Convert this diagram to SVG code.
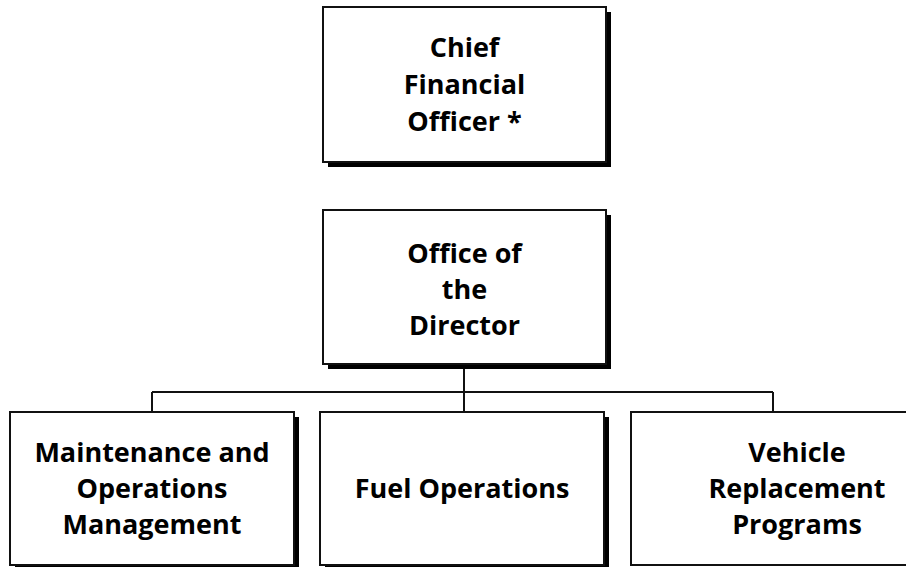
<svg xmlns="http://www.w3.org/2000/svg" width="906" height="567" viewBox="0 0 906 567">
<style>
.box{fill:#fff;stroke:#111;stroke-width:2}
.sh{fill:#000}
.t{font-family:"Open Sans","Liberation Sans",sans-serif;font-weight:bold;font-size:27px;fill:#000;text-anchor:middle}
.c{fill:none;stroke:#111;stroke-width:2}
</style>
<rect width="906" height="567" fill="#fff"/>
<g id="connectors">
<path class="c" d="M464 364V392M152 392H773M152 392V412M464 392V412M773 392V412"/>
</g>
<g id="cfo">
<rect class="sh" x="328" y="12" width="283" height="155"/>
<rect class="box" x="323" y="7" width="283" height="155"/>
<text class="t" x="464.5" y="57">Chief</text>
<text class="t" x="464.5" y="94">Financial</text>
<text class="t" x="464.5" y="131">Officer *</text>
</g>
<g id="director">
<rect class="sh" x="328" y="215" width="283" height="154"/>
<rect class="box" x="323" y="210" width="283" height="154"/>
<text class="t" x="464.5" y="263">Office of</text>
<text class="t" x="464.5" y="299">the</text>
<text class="t" x="464.5" y="335">Director</text>
</g>
<g id="maintenance">
<rect class="sh" x="15" y="417" width="284" height="160"/>
<rect class="box" x="10" y="412" width="284" height="153"/>
<text class="t" x="152" y="462">Maintenance and</text>
<text class="t" x="152" y="498">Operations</text>
<text class="t" x="152" y="534">Management</text>
</g>
<g id="fuel">
<rect class="sh" x="325" y="417" width="284" height="160"/>
<rect class="box" x="320" y="412" width="284" height="153"/>
<text class="t" x="462" y="498">Fuel Operations</text>
</g>
<g id="vehicle">
<rect class="box" x="631" y="412" width="300" height="153"/>
<text class="t" x="797" y="462">Vehicle</text>
<text class="t" x="797" y="498">Replacement</text>
<text class="t" x="797" y="534">Programs</text>
</g>
</svg>
